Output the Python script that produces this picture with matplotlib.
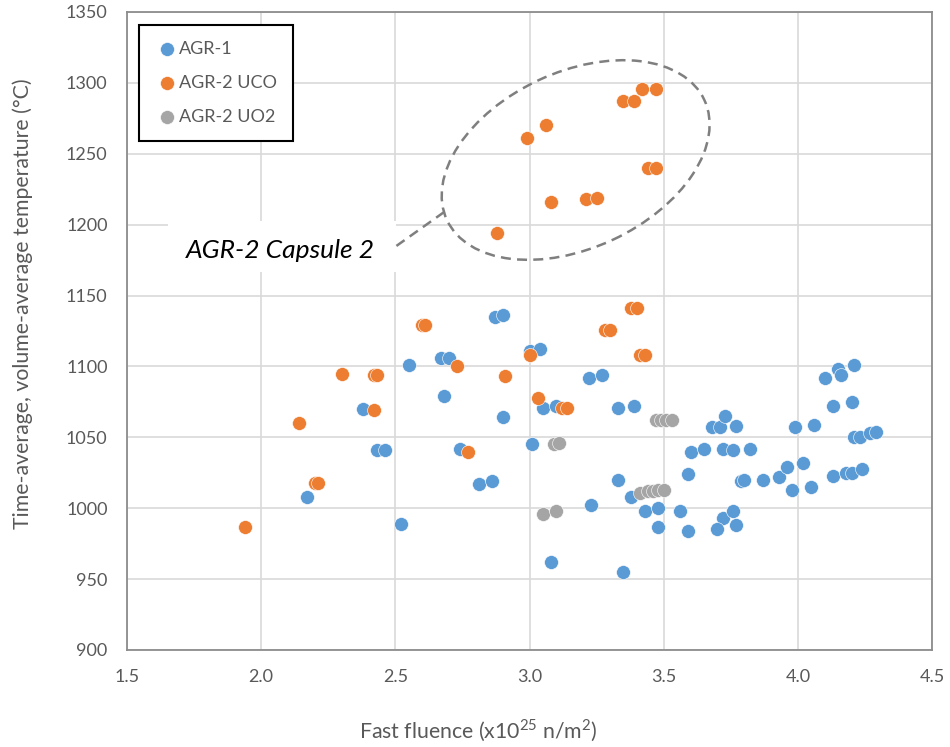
import matplotlib
matplotlib.use("Agg")
import matplotlib.pyplot as plt
from matplotlib.patches import Ellipse, Rectangle
from matplotlib.transforms import ScaledTranslation

plt.rcParams['font.family'] = ['Lato', 'DejaVu Sans']
plt.rcParams['mathtext.fontset'] = 'custom'
plt.rcParams['mathtext.rm'] = 'Lato'

# ---- data ----
agr1_x = [2.17, 2.38, 2.43, 2.46, 2.52, 2.55, 2.67, 2.70, 2.68, 2.74, 2.81, 2.86, 2.87, 2.90,
          2.90, 3.00, 3.04, 3.01, 3.05, 3.10, 3.08, 3.22, 3.27, 3.23, 3.33, 3.39, 3.33, 3.38,
          3.35, 3.43, 3.48, 3.48, 3.56, 3.59, 3.59, 3.60, 3.65, 3.68, 3.71, 3.73, 3.77, 3.72,
          3.76, 3.82, 3.72, 3.76, 3.70, 3.77, 3.79, 3.80, 3.87, 3.93, 3.96, 3.98, 3.99, 4.02,
          4.05, 4.06, 4.13, 4.10, 4.15, 4.16, 4.21, 4.20, 4.21, 4.23, 4.27, 4.29, 4.13, 4.18,
          4.20, 4.24]
agr1_y = [1008, 1070, 1041, 1041, 989, 1101, 1106, 1106, 1079, 1042, 1017, 1019, 1135, 1136,
          1064, 1111, 1112, 1045, 1071, 1072, 962, 1092, 1094, 1002, 1071, 1072, 1020, 1008,
          955, 998, 1000, 987, 998, 984, 1024, 1040, 1042, 1057, 1057, 1065, 1058, 1042,
          1041, 1042, 993, 998, 985, 988, 1019, 1020, 1020, 1022, 1029, 1013, 1057, 1032,
          1015, 1059, 1072, 1092, 1098, 1094, 1101, 1075, 1050, 1050, 1053, 1054, 1023, 1025,
          1025, 1028]

uco_x = [1.94, 2.14, 2.20, 2.21, 2.30, 2.42, 2.43, 2.42, 2.60, 2.61, 2.73, 2.77, 2.91, 3.00,
         3.03, 3.12, 3.14, 3.28, 3.30, 3.38, 3.40, 3.41, 3.43,
         2.88, 2.99, 3.06, 3.08, 3.21, 3.25, 3.35, 3.39, 3.42, 3.47, 3.44, 3.47]
uco_y = [987, 1060, 1018, 1018, 1095, 1094, 1094, 1069, 1129, 1129, 1100, 1040, 1093, 1108,
         1078, 1071, 1071, 1126, 1126, 1141, 1141, 1108, 1108,
         1194, 1261, 1270, 1216, 1218, 1219, 1287, 1287, 1296, 1296, 1240, 1240]

uo2_x = [3.05, 3.10, 3.09, 3.11, 3.41, 3.44, 3.46, 3.48, 3.50, 3.47, 3.49, 3.51, 3.53]
uo2_y = [996, 998, 1045, 1046, 1011, 1012, 1012, 1013, 1013, 1062, 1062, 1062, 1062]

series_names = ['AGR-1', 'AGR-2 UCO', 'AGR-2 UO2']
colors = ['#5B9BD5', '#ED7D31', '#A5A5A5']

x_ticks = [1.5, 2.0, 2.5, 3.0, 3.5, 4.0, 4.5]
y_ticks = [900, 950, 1000, 1050, 1100, 1150, 1200, 1250, 1300, 1350]

# ---- figure ----
fig = plt.figure(figsize=(9.5, 7.47), dpi=100)
ax = fig.add_axes([127/950, 1-650/747, 805/950, 638/747])

for xs, ys, c, n in zip([agr1_x, uco_x, uo2_x], [agr1_y, uco_y, uo2_y], colors, series_names):
    ax.scatter(xs, ys, s=100, color=c, edgecolors='white', linewidths=0.4, label=n, zorder=3)

ax.set_xlim(1.5, 4.5)
ax.set_ylim(900, 1350)
ax.set_xticks(x_ticks)
ax.set_xticklabels([f'{v:.1f}' for v in x_ticks])
ax.set_yticks(y_ticks)
ax.grid(True, color='#D9D9D9', linewidth=1.2, zorder=0)
ax.set_axisbelow(True)
ax.tick_params(length=0, labelsize=13, labelcolor='#595959')
ax.tick_params(axis='x', pad=14)
ax.tick_params(axis='y', pad=14)
for sp in ax.spines.values():
    sp.set_color('#8C8C8C')
    sp.set_linewidth(1.3)

ax.set_xlabel(r'Fast fluence (x10$^{25}$ n/m$^{2}$)', fontsize=15.3, color='#595959')
ax.set_ylabel('Time-average, volume-average temperature (°C)', fontsize=15.3, color='#595959')
ax.xaxis.set_label_coords((478 - 127) / 805, -(731 - 650) / 638)
ax.yaxis.set_label_coords(-(127 - 23) / 805, (650 - 304) / 638)
ax.xaxis.label.set_va('center')
ax.yaxis.label.set_va('center')

leg = ax.legend(loc='upper left', bbox_to_anchor=(0.015, 0.98), borderaxespad=0,
                fancybox=False, edgecolor='black', fontsize=13, labelcolor='#595959',
                handletextpad=0.0, labelspacing=1.0, borderpad=0.9, handlelength=1.3,
                markerscale=1.0)
leg.get_frame().set_linewidth(1.5)
leg.get_frame().set_alpha(1)

# ellipse around AGR-2 capsule 2 (drawn in pixel units around a data-space center)
cx, cy = 3.172, 1245.6
tr = fig.dpi_scale_trans + ScaledTranslation(cx, cy, ax.transData)
ell = Ellipse((0, 0), 2.84, 1.76, angle=25, transform=tr, fill=False,
              edgecolor='#7F7F7F', linestyle=(0, (4, 2.5)), linewidth=1.8, zorder=2)
ax.add_patch(ell)

ax.plot([2.504, 2.69], [1185, 1210], color='#7F7F7F', linestyle=(0, (4, 2.5)),
        linewidth=1.8, zorder=2)

# white label box
ax.add_patch(Rectangle((1.653, 1166.5), 2.504 - 1.653, 1202.5 - 1166.5,
                       facecolor='white', edgecolor='none', zorder=1.5))
ax.text(2.071, 1182, 'AGR-2 Capsule 2', fontsize=19, style='italic', color='black',
        ha='center', va='center', zorder=4)

fig.savefig('out.png', dpi=100)
